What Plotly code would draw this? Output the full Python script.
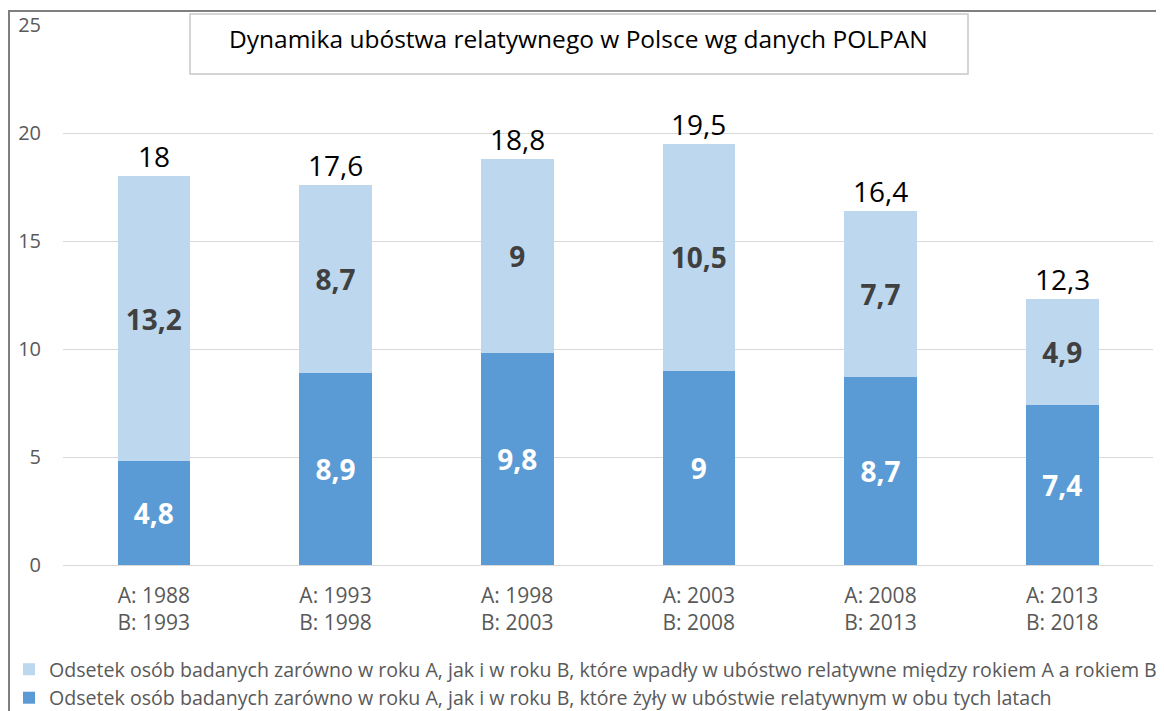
import plotly.graph_objects as go

categories = ["A: 1988<br>B: 1993", "A: 1993<br>B: 1998", "A: 1998<br>B: 2003",
              "A: 2003<br>B: 2008", "A: 2008<br>B: 2013", "A: 2013<br>B: 2018"]
both_years = [4.8, 8.9, 9.8, 9.0, 8.7, 7.4]
fell_into = [13.2, 8.7, 9.0, 10.5, 7.7, 4.9]
name_fell = "Odsetek osób badanych zarówno w roku A, jak i w roku B, które wpadły w ubóstwo relatywne między rokiem A a rokiem B"
name_both = "Odsetek osób badanych zarówno w roku A, jak i w roku B, które żyły w ubóstwie relatywnym w obu tych latach"
title_text = "Dynamika ubóstwa relatywnego w Polsce wg danych POLPAN"
y_ticks = [0, 5, 10, 15, 20, 25]

W, H = 1164, 711
OFF = 8  # page body margin
FONT = "Open Sans"


def fmt(v):
    return f"{v:g}".replace(".", ",")


totals = [round(a + b, 1) for a, b in zip(both_years, fell_into)]


def px_x(x):
    return (x - OFF) / W


def px_y(y):
    return 1 - (y - OFF) / H


fig = go.Figure()
fig.add_trace(go.Bar(
    x=categories, y=both_years, name=name_both,
    marker=dict(color="#5B9BD5", line=dict(width=0)),
    text=[fmt(v) for v in both_years], textposition="inside",
    insidetextanchor="middle", textangle=0, constraintext="none",
    textfont=dict(family=FONT, size=28, color="white", weight="bold"),
    width=0.4, legendrank=2, hoverinfo="skip",
))
fig.add_trace(go.Bar(
    x=categories, y=fell_into, name=name_fell,
    marker=dict(color="#BDD7EE", line=dict(width=0)),
    text=[fmt(v) for v in fell_into], textposition="inside",
    insidetextanchor="middle", textangle=0, constraintext="none",
    textfont=dict(family=FONT, size=28, color="#404040", weight="bold"),
    width=0.4, legendrank=1, hoverinfo="skip",
))

total_annotations = [
    dict(text=fmt(t), x=c, y=t, xref="x", yref="y", xanchor="center",
         yanchor="bottom", showarrow=False, yshift=-1,
         font=dict(family=FONT, size=28, color="#000000"))
    for c, t in zip(categories, totals)
]

fig.update_layout(
    width=W, height=H,
    margin=dict(l=0, r=0, t=0, b=0, autoexpand=False),
    barmode="stack",
    paper_bgcolor="white", plot_bgcolor="white",
    font=dict(family=FONT, color="#595959"),
    showlegend=True,
    legend=dict(
        x=px_x(9), y=px_y(650), xanchor="left", yanchor="top",
        orientation="v", traceorder="normal",
        font=dict(family=FONT, size=19.6, color="#595959"),
        bgcolor="rgba(0,0,0,0)", itemclick=False, itemdoubleclick=False,
    ),
    xaxis=dict(
        domain=[px_x(63), px_x(1153)], range=[-0.5, 5.5],
        showgrid=False, showline=False, ticks="",
        tickfont=dict(family=FONT, size=21, color="#595959"),
        automargin=False, ticklabelstandoff=16,
    ),
    yaxis=dict(
        domain=[px_y(565), px_y(25)], range=[0, 25],
        tickvals=y_ticks, showgrid=True, gridcolor="#D9D9D9", gridwidth=1,
        zeroline=True, zerolinecolor="#D9D9D9", zerolinewidth=1,
        showline=False, ticks="",
        tickfont=dict(family=FONT, size=20, color="#595959"),
        automargin=False, ticklabelstandoff=21,
    ),
    shapes=[
        dict(type="rect", xref="paper", yref="paper",
             x0=px_x(9), x1=px_x(1180), y0=px_y(11), y1=px_y(730),
             line=dict(color="#7F7F7F", width=2), layer="above"),
        dict(type="rect", xref="paper", yref="paper",
             x0=px_x(190), x1=px_x(968), y0=px_y(14), y1=px_y(74),
             line=dict(color="#C8C8C8", width=1.5), fillcolor="white", layer="above"),
    ],
    annotations=[
        dict(text=title_text, xref="paper", yref="paper",
             x=px_x(578), y=px_y(39), xanchor="center", yanchor="middle",
             showarrow=False, font=dict(family=FONT, size=24.5, color="#000000")),
    ] + total_annotations,
)

fig.write_html("out.html")
